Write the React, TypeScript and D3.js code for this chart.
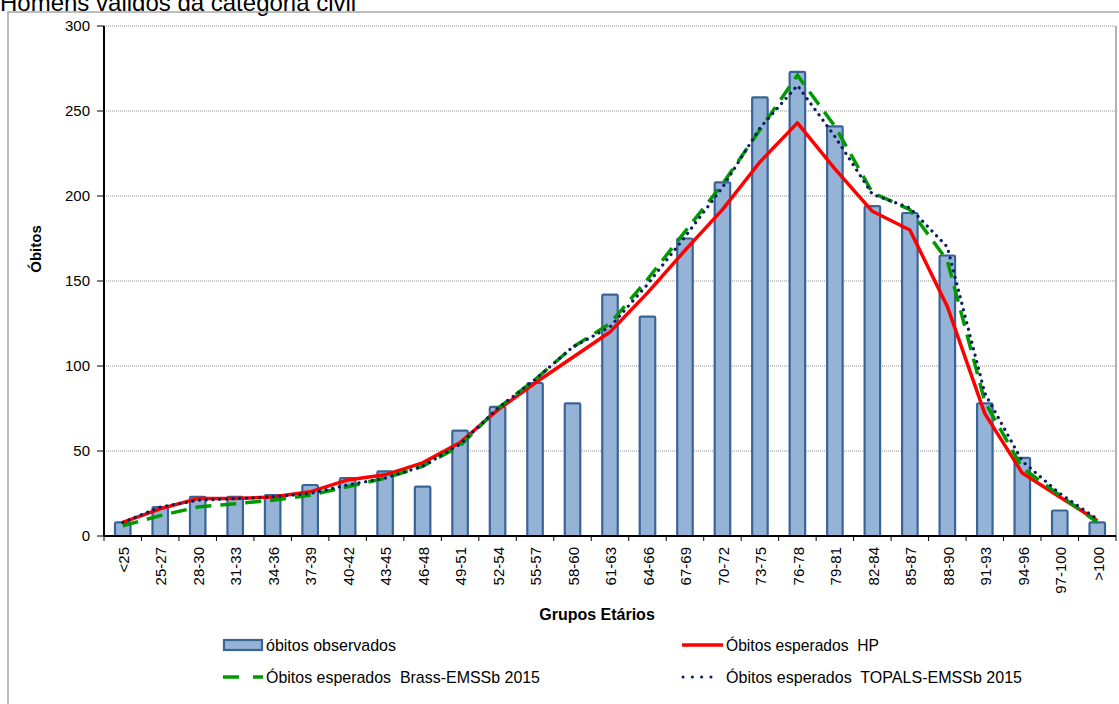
import React from "react";
import * as d3 from "d3";

const categories = ["<25","25-27","28-30","31-33","34-36","37-39","40-42","43-45","46-48","49-51","52-54","55-57","58-60","61-63","64-66","67-69","70-72","73-75","76-78","79-81","82-84","85-87","88-90","91-93","94-96","97-100",">100"];
const observed = [8,17,23,23,24,30,34,38,29,62,76,90,78,142,129,175,208,258,273,241,194,190,165,78,46,15,8];
const expectedHP = [8,16,22,22,23,26,33,36,43,55,74,90,105,120,143,168,192,220,243,216,191,180,135,72,37,23,9];
const expectedBrass = [6,12,17,19,21,24,29,34,41,53,75,92,111,125,151,179,207,239,271,241,202,192,162,79,40,24,8];
const expectedTopals = [8,17,21,22,23,25,30,34,41,54,75,92,111,123,148,176,205,240,265,235,201,193,170,84,44,25,10];
const yTicks = [0,50,100,150,200,250,300];

const FONT = "'Liberation Sans', Arial, Helvetica, sans-serif";
const L = 104, R = 1116, T = 26, B = 536;

export default function App() {
  const x = d3.scaleBand<string>().domain(categories).range([L, R]).padding(0);
  const y = d3.scaleLinear().domain([0, 300]).range([B, T]);
  const bw = x.bandwidth();
  const barW = 15.5;
  const cx = (c: string) => (x(c) as number) + bw / 2;
  const line = d3.line<number>().x((_, i) => cx(categories[i])).y((v) => y(v));

  return (
    <div style={{ position: "absolute", left: 0, top: 0 }}>
      <svg width={1119} height={704} style={{ display: "block", fontFamily: FONT }}>
        <rect x={0} y={0} width={1119} height={704} fill="#fff" />
        <text x={0} y={11} fontSize={24} fill="#000">Homens válidos da categoria civil</text>
        <rect x={8} y={12} width={1130} height={710} fill="none" stroke="#a6a6a6" strokeWidth={1.5} />

        {/* gridlines */}
        {yTicks.filter((t) => t > 0).map((t) => (
          <line key={t} x1={L} x2={R} y1={y(t)} y2={y(t)} stroke="#8c8c8c" strokeWidth={1} strokeDasharray="1 1" />
        ))}
        <line x1={R} x2={R} y1={T} y2={B} stroke="#7f7f7f" strokeWidth={1.2} />

        {/* bars */}
        {categories.map((c, i) => (
          <rect key={c} x={cx(c) - barW / 2} y={y(observed[i])} width={barW} height={B - y(observed[i])}
            fill="#95b3d7" stroke="#3b6496" strokeWidth={2.2} rx={1.2} />
        ))}

        {/* lines */}
        <path d={line(expectedHP) || ""} fill="none" stroke="#ff0000" strokeWidth={3.5} strokeLinejoin="round" />
        <path d={line(expectedBrass) || ""} fill="none" stroke="#009a00" strokeWidth={3.5} strokeDasharray="16 9" />
        <path d={line(expectedTopals) || ""} fill="none" stroke="#0a2060" strokeWidth={3.2} strokeLinecap="round" strokeDasharray="0.1 6.6" />

        {/* y axis */}
        <line x1={L} x2={L} y1={T} y2={B} stroke="#000" strokeWidth={2} />
        {yTicks.map((t) => (
          <g key={t}>
            <line x1={L - 7} x2={L} y1={y(t)} y2={y(t)} stroke="#000" strokeWidth={1} />
            <text x={90} y={y(t)} dy="0.35em" textAnchor="end" fontSize={15} fill="#000">{t}</text>
          </g>
        ))}
        <text transform={`translate(41,249) rotate(-90)`} textAnchor="middle" fontSize={15} fontWeight="bold" fill="#000">Óbitos</text>

        {/* x axis */}
        <line x1={L} x2={R} y1={B} y2={B} stroke="#000" strokeWidth={2} />
        {categories.map((c) => (
          <line key={"t" + c} x1={x(c) as number} x2={x(c) as number} y1={B} y2={B + 5} stroke="#000" strokeWidth={1} />
        ))}
        <line x1={R} x2={R} y1={B} y2={B + 5} stroke="#000" strokeWidth={1} />
        {categories.map((c) => (
          <text key={"l" + c} transform={`translate(${cx(c) + 1},547) rotate(-90)`} textAnchor="end" dy="0.35em" fontSize={15} fill="#000">{c}</text>
        ))}
        <text x={597} y={620} textAnchor="middle" fontSize={16} fontWeight="bold" fill="#000">Grupos Etários</text>

        {/* legend */}
        <rect x={224} y={640} width={38} height={10} fill="#95b3d7" stroke="#3b6496" strokeWidth={2.2} />
        <text x={266} y={645} dy="0.35em" fontSize={17} textLength={130} lengthAdjust="spacingAndGlyphs" fill="#000">óbitos observados</text>
        <line x1={682} x2={723} y1={645} y2={645} stroke="#ff0000" strokeWidth={3.5} />
        <text x={726} y={645} dy="0.35em" fontSize={17} textLength={153} lengthAdjust="spacingAndGlyphs" fill="#000" style={{ whiteSpace: "pre" }}>Óbitos esperados  HP</text>
        <line x1={223} x2={263} y1={677} y2={677} stroke="#009a00" strokeWidth={3.5} strokeDasharray="16 14" />
        <text x={266} y={677} dy="0.35em" fontSize={17} textLength={274} lengthAdjust="spacingAndGlyphs" fill="#000" style={{ whiteSpace: "pre" }}>Óbitos esperados  Brass-EMSSb 2015</text>
        <line x1={683} x2={720} y1={677} y2={677} stroke="#0a2060" strokeWidth={3} strokeLinecap="round" strokeDasharray="0.1 9.2" />
        <text x={726} y={677} dy="0.35em" fontSize={17} textLength={296} lengthAdjust="spacingAndGlyphs" fill="#000" style={{ whiteSpace: "pre" }}>Óbitos esperados  TOPALS-EMSSb 2015</text>
      </svg>
    </div>
  );
}
